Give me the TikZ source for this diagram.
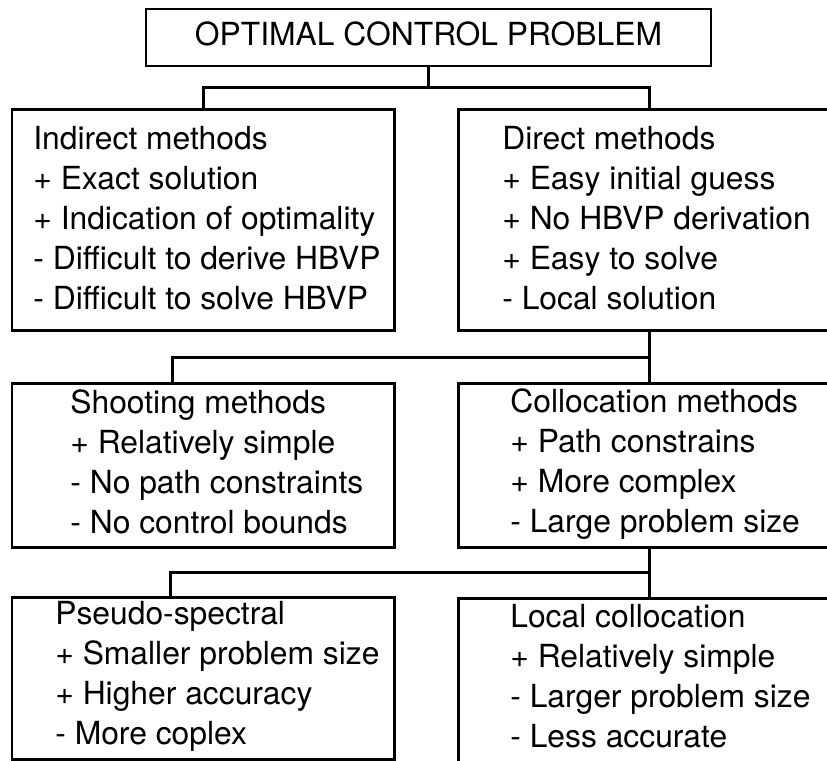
\documentclass[tikz,border=0pt]{standalone}
\usepackage{fontspec}
\setmainfont{TeX Gyre Heros}
\usetikzlibrary{calc}

\begin{document}
\begin{tikzpicture}[
        box/.style={draw, line width=0.06cm, minimum width=7.640000cm, inner sep=0},
        note/.style={align=left, anchor=base west, inner sep=0},
        link/.style={line width=0.06cm}]
            \clip (0,0) rectangle (16.540000,15.200000);
            {\fontsize{18.1pt}{22.76pt}\selectfont

            % Drawing box of the problem
            \node [draw, line width=0.04cm, minimum width=11.300000cm, minimum height=1.140000cm, text depth=0.16cm] (problem) at (8.570000,14.450000) {OPTIMAL CONTROL PROBLEM};%

            % Drawing boxes of indirect and direct methods (notes sit on their last line)
            \node [box, minimum height=4.400000cm] (indirect) at (4.060000,10.800000) {};%
            \node [box, minimum height=4.400000cm] (direct) at (12.980000,10.800000) {};%
            \node [note] (indirecttext) at (0.660000,9.010000) {Indirect methods\\+ Exact solution\\+ Indication of optimality\\- Difficult to derive HBVP\\- Difficult to solve HBVP};%
            \node [note] (directtext) at (10.040000,9.010000) {Direct methods\\+ Easy initial guess\\+ No HBVP derivation\\+ Easy to solve\\- Local solution};%

            % Drawing boxes of shooting and collocation methods
            \node [box, minimum height=3.280000cm] (shooting) at (4.060000,5.900000) {};%
            \node [box, minimum height=3.280000cm] (collocation) at (12.980000,5.900000) {};%
            \node [note] (shootingtext) at (1.400000,4.540000) {Shooting methods\\+ Relatively simple\\- No path constraints\\- No control bounds};%
            \node [note] (collocationtext) at (10.200000,4.560000) {Collocation methods\\+ Path constrains\\+ More complex\\- Large problem size};%

            % Drawing boxes of pseudo-spectral and local collocation
            \node [box, minimum height=3.240000cm] (pseudo) at (4.060000,1.640000) {};%
            \node [box, minimum height=3.740000cm] (localcol) at (12.980000,1.370000) {};%
            \node [note] (pseudotext) at (1.100000,0.310000) {Pseudo-spectral\\+ Smaller problem size\\+ Higher accuracy\\- More coplex};%
            \node [note] (localcoltext) at (10.200000,0.260000) {Local collocation\\+ Relatively simple\\- Larger problem size\\- Less accurate};%

            % Drawing first fork
            \coordinate (fork1) at (8.570000,13.440000);%
            \draw [link] (problem.south) -- (fork1);%
            \draw [link] (indirect.north) |- (fork1) -| (direct.north);%

            % Drawing second fork
            \coordinate (fork2) at (12.980000,8.060000);%
            \draw [link] (direct.south) -- (collocation.north);%
            \draw [link] (fork2) -| ([xshift=-0.62cm]shooting.north);%

            % Drawing third fork
            \coordinate (fork3) at (12.980000,3.760000);%
            \draw [link] (collocation.south) -- (localcol.north);%
            \draw [link] (fork3) -| ([xshift=-0.66cm]pseudo.north);%
            }
        \end{tikzpicture}
\end{document}
